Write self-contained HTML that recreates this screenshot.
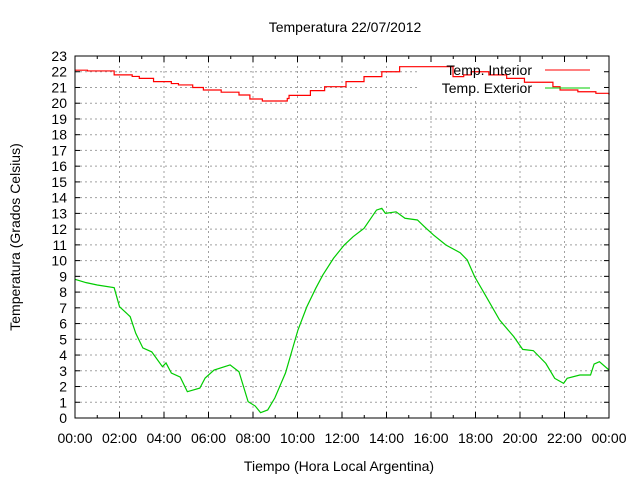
<!DOCTYPE html>
<html><head><meta charset="utf-8"><style>
html,body{margin:0;padding:0;background:#fff}
svg text{font-family:"Liberation Sans","DejaVu Sans",sans-serif;fill:#000}
</style></head><body>
<svg id="chart" width="640" height="480" xmlns="http://www.w3.org/2000/svg">
<rect width="640" height="480" fill="#fff"/>
<text x="345" y="32" font-size="14" text-anchor="middle">Temperatura 22/07/2012</text>
<text x="339" y="471" font-size="14" text-anchor="middle">Tiempo (Hora Local Argentina)</text>
<text x="0" y="0" font-size="14" text-anchor="middle" transform="translate(20,237) rotate(-90)">Temperatura (Grados Celsius)</text>
<g id="grid"></g>
<rect x="420" y="58" width="188" height="42" fill="#fff"/>
<g id="series"></g>
<g id="axes"></g>
<g>
<text x="532" y="75" font-size="14" text-anchor="end">Temp. Interior</text>
<line x1="545" y1="70" x2="590" y2="70" stroke="#f00" stroke-width="1"/>
<text x="532" y="93" font-size="14" text-anchor="end">Temp. Exterior</text>
<line x1="545" y1="88" x2="590" y2="88" stroke="#0c0" stroke-width="1"/>
</g>
</svg>
<script>
const interiorTimes=[0,0.56,1.76,2.57,2.89,3.53,4.33,4.65,5.29,5.77,6.57,7.37,7.86,8.42,9.54,9.62,10.58,11.22,12.18,12.99,13.79,14.59,16.67,16.99,17.47,17.8,18.6,19.4,20.2,21.48,21.8,22.6,23.41,24];
const interiorValues=[22.1,22.05,21.8,21.7,21.58,21.37,21.25,21.16,21.0,20.84,20.7,20.52,20.27,20.14,20.3,20.5,20.8,21.05,21.37,21.69,22.0,22.32,22.32,21.69,21.8,22.0,21.8,21.58,21.33,21.05,20.84,20.73,20.63,20.52];
const exteriorTimes=[0,0.5,1.0,1.76,2.0,2.48,2.73,3.05,3.45,3.93,4.09,4.33,4.73,5.05,5.61,5.85,6.25,6.97,7.37,7.78,8.1,8.34,8.66,8.98,9.46,10.02,10.42,10.82,11.14,11.62,12.1,12.5,12.99,13.55,13.79,13.95,14.43,14.83,15.39,15.71,16.11,16.67,17.31,17.63,17.96,18.44,19.08,19.72,20.12,20.6,21.16,21.56,21.96,22.12,22.69,23.17,23.33,23.57,24];
const exteriorValues=[8.81,8.6,8.45,8.28,7.07,6.44,5.38,4.45,4.2,3.26,3.5,2.86,2.6,1.67,1.9,2.54,3.05,3.37,2.94,1.04,0.76,0.34,0.51,1.27,2.86,5.59,7.07,8.24,9.09,10.15,10.99,11.52,12.05,13.21,13.32,13.0,13.1,12.69,12.58,12.15,11.63,10.99,10.5,10.04,8.98,7.81,6.23,5.17,4.36,4.28,3.47,2.52,2.2,2.52,2.73,2.73,3.43,3.58,3.05];
const yTicks=[0,1,2,3,4,5,6,7,8,9,10,11,12,13,14,15,16,17,18,19,20,21,22,23];
const xTickLabels=["00:00","02:00","04:00","06:00","08:00","10:00","12:00","14:00","16:00","18:00","20:00","22:00","00:00"];
const X0=75,X1=609,Y0=418,Y1=56;
const xs=t=>X0+(X1-X0)*t/24;
const ys=v=>Y0-(Y0-Y1)*v/23;
const NS="http://www.w3.org/2000/svg";
function mk(tag,parent){const e=document.createElementNS(NS,tag);parent.appendChild(e);return e;}
const grid=document.getElementById('grid'),axes=document.getElementById('axes'),series=document.getElementById('series');
yTicks.forEach(v=>{
  const y=ys(v);
  if(v>0&&v<23){const g=mk('line',grid);
    
    
    g.setAttribute('x1',X0);g.setAttribute('x2',X1);g.setAttribute('y1',y);g.setAttribute('y2',y);
    g.setAttribute('stroke','#a0a0a0');g.setAttribute('stroke-dasharray','2,3');}
  [[X0,X0+5],[X1,X1-5]].forEach(p=>{const t=mk('line',axes);
    
    
    t.setAttribute('x1',p[0]);t.setAttribute('x2',p[1]);t.setAttribute('y1',y);t.setAttribute('y2',y);t.setAttribute('stroke','#000');});
  const l=mk('text',axes);
  
  
  l.setAttribute('x',67);l.setAttribute('y',y+5);l.setAttribute('font-size','14');l.setAttribute('text-anchor','end');l.textContent=v;
});
for(let h=0;h<=24;h++){
  const x=xs(h),maj=h%2===0,len=maj?6:3;
  if(maj&&h>0&&h<24){const g=mk('line',grid);
    
    
    g.setAttribute('x1',x);g.setAttribute('x2',x);g.setAttribute('y1',Y1);g.setAttribute('y2',Y0);
    g.setAttribute('stroke','#a0a0a0');g.setAttribute('stroke-dasharray','2,3');}
  [[Y0,Y0-len],[Y1,Y1+len]].forEach(p=>{const t=mk('line',axes);
    
    
    t.setAttribute('x1',x);t.setAttribute('x2',x);t.setAttribute('y1',p[0]);t.setAttribute('y2',p[1]);t.setAttribute('stroke','#000');});
}
xTickLabels.forEach((s,i)=>{const l=mk('text',axes);
  
  
  l.setAttribute('x',xs(i*2));l.setAttribute('y',443);l.setAttribute('font-size','14');l.setAttribute('text-anchor','middle');l.textContent=s;});
const frame=mk('rect',axes);


frame.setAttribute('x',X0);frame.setAttribute('y',Y1);frame.setAttribute('width',X1-X0);frame.setAttribute('height',Y0-Y1);
frame.setAttribute('fill','none');frame.setAttribute('stroke','#000');
// interior: step line
let d='';
interiorTimes.forEach((t,i)=>{const x=xs(t),y=ys(interiorValues[i]);
  if(i===0)d+='M'+x+','+y;else d+=' H'+x+' V'+y;});
const pi=mk('path',series);


pi.setAttribute('d',d);pi.setAttribute('fill','none');pi.setAttribute('stroke','#f00');pi.setAttribute('stroke-width','1.2');
let d2='';
exteriorTimes.forEach((t,i)=>{d2+=(i?' L':'M')+xs(t)+','+ys(exteriorValues[i]);});
const pe=mk('path',series);


pe.setAttribute('d',d2);pe.setAttribute('fill','none');pe.setAttribute('stroke','#0c0');pe.setAttribute('stroke-width','1.2');
</script>
</body></html>
